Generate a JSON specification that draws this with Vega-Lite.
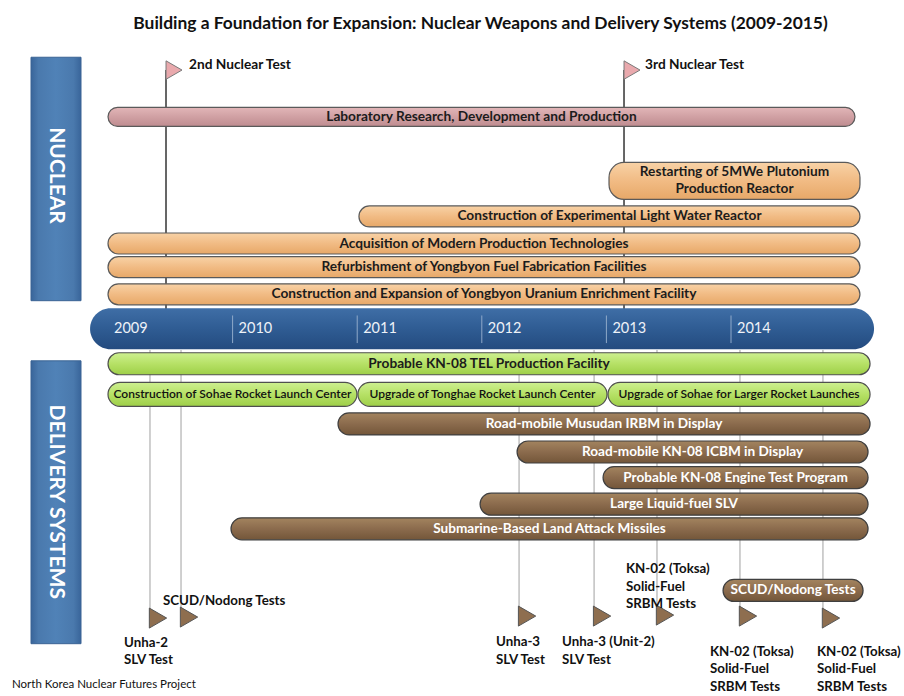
{
  "$schema": "https://vega.github.io/schema/vega-lite/v6.json",
  "width": 904,
  "height": 696,
  "autosize": {"type": "none"},
  "padding": 0,
  "background": "white",
  "config": {"view": {"stroke": null}, "text": {"font": "Lato"}},
  "datasets": {
    "blocks": [
      {"name": "NUCLEAR", "start": 2008.382, "end": 2008.7833, "top": 53, "bottom": 300},
      {"name": "DELIVERY SYSTEMS", "start": 2008.382, "end": 2008.7833, "top": 361, "bottom": 648}
    ],
    "band": [{"start": 2008.856, "end": 2015.148, "lane": 328.5}],
    "years": [
      {"year": 2009, "label": "2009"},
      {"year": 2010, "label": "2010"},
      {"year": 2011, "label": "2011"},
      {"year": 2012, "label": "2012"},
      {"year": 2013, "label": "2013"},
      {"year": 2014, "label": "2014"}
    ],
    "bars": [
      {"name": "Laboratory Research, Development and Production", "start": 2009.0, "end": 2014.995, "lane": 113.5, "group": "pink"},
      {"name": "Restarting of 5MWe Plutonium\nProduction Reactor", "start": 2013.021, "end": 2015.035, "lane": 178.5, "group": "orangeTall"},
      {"name": "Construction of Experimental Light Water Reactor", "start": 2011.014, "end": 2015.035, "lane": 214.5, "group": "orange"},
      {"name": "Acquisition of Modern Production Technologies", "start": 2009.0, "end": 2015.035, "lane": 242, "group": "orange"},
      {"name": "Refurbishment of Yongbyon Fuel Fabrication Facilities", "start": 2009.0, "end": 2015.035, "lane": 266, "group": "orange"},
      {"name": "Construction and Expansion of Yongbyon Uranium Enrichment Facility", "start": 2009.0, "end": 2015.035, "lane": 293.5, "group": "orange"},
      {"name": "Probable KN-08 TEL Production Facility", "start": 2009.0, "end": 2015.116, "lane": 364, "group": "green"},
      {"name": "Construction of Sohae Rocket  Launch Center", "start": 2009.0, "end": 2010.998, "lane": 395, "group": "green2"},
      {"name": "Upgrade of Tonghae Rocket Launch Center", "start": 2011.006, "end": 2013.005, "lane": 395, "group": "green2"},
      {"name": "Upgrade of Sohae for Larger Rocket Launches", "start": 2013.013, "end": 2015.116, "lane": 395, "group": "green2"},
      {"name": "Road-mobile Musudan IRBM in Display", "start": 2010.846, "end": 2015.116, "lane": 425, "group": "brown"},
      {"name": "Road-mobile KN-08 ICBM in Display", "start": 2012.283, "end": 2015.1, "lane": 453.5, "group": "brown"},
      {"name": "Probable KN-08 Engine Test Program", "start": 2012.973, "end": 2015.1, "lane": 479.5, "group": "brown"},
      {"name": "Large Liquid-fuel SLV", "start": 2011.986, "end": 2015.1, "lane": 506.5, "group": "brown"},
      {"name": "Submarine-Based Land Attack Missiles", "start": 2009.987, "end": 2015.1, "lane": 531.5, "group": "brown"},
      {"name": "SCUD/Nodong Tests", "start": 2013.936, "end": 2015.06, "lane": 594, "group": "brown"}
    ],
    "events": [
      {"name": "2nd Nuclear Test", "year": 2009.4655, "lane": 66, "group": "nuc"},
      {"name": "3rd Nuclear Test", "year": 2013.1413, "lane": 66, "group": "nuc"},
      {"name": "Unha-2 SLV Test", "year": 2009.337, "lane": 622, "group": "del"},
      {"name": "SCUD/Nodong Tests", "year": 2009.586, "lane": 621, "group": "del"},
      {"name": "Unha-3 SLV Test", "year": 2012.299, "lane": 620, "group": "del"},
      {"name": "Unha-3 (Unit-2) SLV Test", "year": 2012.901, "lane": 620, "group": "del"},
      {"name": "KN-02 (Toksa) 1", "year": 2013.406, "lane": 619, "group": "del"},
      {"name": "KN-02 (Toksa) 2", "year": 2014.072, "lane": 620, "group": "del"},
      {"name": "KN-02 (Toksa) 3", "year": 2014.738, "lane": 622, "group": "del"}
    ],
    "notes": [
      {"text": "Building a Foundation for Expansion: Nuclear Weapons and Delivery Systems (2009-2015)", "year": 2011.9896, "lane": 19, "kind": "title"},
      {"text": "NUCLEAR", "year": 2008.5826, "lane": 173, "kind": "block"},
      {"text": "DELIVERY SYSTEMS", "year": 2008.5826, "lane": 504, "kind": "block"},
      {"text": "2nd Nuclear Test", "year": 2009.65, "lane": 61, "kind": "flag"},
      {"text": "3rd Nuclear Test", "year": 2013.31, "lane": 61, "kind": "flag"},
      {"text": "SCUD/Nodong Tests", "year": 2009.4414, "lane": 598, "kind": "note"},
      {"text": "Unha-2\nSLV Test", "year": 2009.1284, "lane": 640, "kind": "note"},
      {"text": "Unha-3\nSLV Test", "year": 2012.1139, "lane": 639, "kind": "note"},
      {"text": "Unha-3 (Unit-2)\nSLV Test", "year": 2012.6437, "lane": 639, "kind": "note"},
      {"text": "KN-02 (Toksa)\nSolid-Fuel\nSRBM Tests", "year": 2013.1573, "lane": 565, "kind": "note"},
      {"text": "KN-02 (Toksa)\nSolid-Fuel\nSRBM Tests", "year": 2013.8315, "lane": 649, "kind": "note"},
      {"text": "KN-02 (Toksa)\nSolid-Fuel\nSRBM Tests", "year": 2014.6902, "lane": 649, "kind": "note"},
      {"text": "North Korea  Nuclear Futures Project", "year": 2008.2295, "lane": 690, "kind": "foot"}
    ]
  },
  "layer": [
    {
      "data": {"name": "blocks"},
      "mark": {"type": "rect", "stroke": "#3a6394", "strokeWidth": 1,
        "fill": {"gradient": "linear", "x1": 0, "y1": 0, "x2": 1, "y2": 0,
          "stops": [{"offset": 0, "color": "#39659a"}, {"offset": 0.15, "color": "#4a79ad"}, {"offset": 0.5, "color": "#5082b7"}, {"offset": 0.85, "color": "#4a79ad"}, {"offset": 1, "color": "#39659a"}]}},
      "encoding": {
        "x": {"field": "start", "type": "quantitative", "scale": {"domain": [2008.1332, 2015.3884], "nice": false, "zero": false}, "axis": null},
        "x2": {"field": "end"},
        "y": {"field": "top", "type": "quantitative", "scale": {"domain": [0, 696], "reverse": true, "nice": false, "zero": false}, "axis": null},
        "y2": {"field": "bottom"}
      }
    },
    {
      "data": {"name": "events"},
      "transform": [{"filter": "datum.group === 'nuc'"}],
      "mark": {"type": "rule", "color": "#000000", "strokeWidth": 1.2},
      "encoding": {
        "x": {"field": "year", "type": "quantitative", "scale": {"domain": [2008.1332, 2015.3884], "nice": false, "zero": false}, "axis": null},
        "y": {"field": "lane", "type": "quantitative", "scale": {"domain": [0, 696], "reverse": true, "nice": false, "zero": false}, "axis": null},
        "y2": {"datum": 310}
      }
    },
    {
      "data": {"name": "events"},
      "transform": [{"filter": "datum.group === 'del'"}],
      "mark": {"type": "rule", "color": "#a0a0a0", "strokeWidth": 1},
      "encoding": {
        "x": {"field": "year", "type": "quantitative", "scale": {"domain": [2008.1332, 2015.3884], "nice": false, "zero": false}, "axis": null},
        "y": {"field": "lane", "type": "quantitative", "scale": {"domain": [0, 696], "reverse": true, "nice": false, "zero": false}, "axis": null},
        "y2": {"datum": 350}
      }
    },
    {
      "data": {"name": "band"},
      "mark": {"type": "bar", "size": 41, "cornerRadius": 20.5,
        "fill": {"gradient": "linear", "x1": 0, "y1": 0, "x2": 0, "y2": 1,
          "stops": [{"offset": 0, "color": "#3f6ea6"}, {"offset": 0.5, "color": "#2f5c93"}, {"offset": 1, "color": "#244b7f"}]}},
      "encoding": {
        "x": {"field": "start", "type": "quantitative", "scale": {"domain": [2008.1332, 2015.3884], "nice": false, "zero": false}, "axis": null},
        "x2": {"field": "end"},
        "y": {"field": "lane", "type": "quantitative", "scale": {"domain": [0, 696], "reverse": true, "nice": false, "zero": false}, "axis": null}
      }
    },
    {
      "data": {"name": "years"},
      "transform": [{"filter": "datum.year > 2009"}],
      "mark": {"type": "rule", "color": "#8fa9c9", "strokeWidth": 1},
      "encoding": {
        "x": {"field": "year", "type": "quantitative", "scale": {"domain": [2008.1332, 2015.3884], "nice": false, "zero": false}, "axis": null},
        "y": {"datum": 315, "type": "quantitative", "scale": {"domain": [0, 696], "reverse": true, "nice": false, "zero": false}, "axis": null},
        "y2": {"datum": 343}
      }
    },
    {
      "data": {"name": "years"},
      "mark": {"type": "text", "align": "left", "baseline": "middle", "xOffset": 6, "fontSize": 14.5, "color": "#eef2f8"},
      "encoding": {
        "x": {"field": "year", "type": "quantitative", "scale": {"domain": [2008.1332, 2015.3884], "nice": false, "zero": false}, "axis": null},
        "y": {"datum": 329, "type": "quantitative", "scale": {"domain": [0, 696], "reverse": true, "nice": false, "zero": false}, "axis": null},
        "text": {"field": "label"}
      }
    },
    {
      "data": {"name": "bars"},
      "transform": [{"filter": "datum.group === 'pink'"}],
      "mark": {"type": "bar", "size": 19, "cornerRadius": 9.5, "stroke": "#5a5a5a", "strokeWidth": 1.2,
        "fill": {"gradient": "linear", "x1": 0, "y1": 0, "x2": 0, "y2": 1,
          "stops": [{"offset": 0, "color": "#e2b6b8"}, {"offset": 0.5, "color": "#d0a0a3"}, {"offset": 1, "color": "#bf8c90"}]}},
      "encoding": {
        "x": {"field": "start", "type": "quantitative", "scale": {"domain": [2008.1332, 2015.3884], "nice": false, "zero": false}, "axis": null},
        "x2": {"field": "end"},
        "y": {"field": "lane", "type": "quantitative", "scale": {"domain": [0, 696], "reverse": true, "nice": false, "zero": false}, "axis": null}
      }
    },
    {
      "data": {"name": "bars"},
      "transform": [{"filter": "datum.group === 'orange'"}],
      "mark": {"type": "bar", "size": 21, "cornerRadius": 10.5, "stroke": "#5a5a5a", "strokeWidth": 1.2,
        "fill": {"gradient": "linear", "x1": 0, "y1": 0, "x2": 0, "y2": 1,
          "stops": [{"offset": 0, "color": "#f8d2a6"}, {"offset": 0.5, "color": "#f1bb84"}, {"offset": 1, "color": "#e7a868"}]}},
      "encoding": {
        "x": {"field": "start", "type": "quantitative", "scale": {"domain": [2008.1332, 2015.3884], "nice": false, "zero": false}, "axis": null},
        "x2": {"field": "end"},
        "y": {"field": "lane", "type": "quantitative", "scale": {"domain": [0, 696], "reverse": true, "nice": false, "zero": false}, "axis": null}
      }
    },
    {
      "data": {"name": "bars"},
      "transform": [{"filter": "datum.group === 'orangeTall'"}],
      "mark": {"type": "bar", "size": 37, "cornerRadius": 15, "stroke": "#5a5a5a", "strokeWidth": 1.2,
        "fill": {"gradient": "linear", "x1": 0, "y1": 0, "x2": 0, "y2": 1,
          "stops": [{"offset": 0, "color": "#f8d2a6"}, {"offset": 0.5, "color": "#f1bb84"}, {"offset": 1, "color": "#e7a868"}]}},
      "encoding": {
        "x": {"field": "start", "type": "quantitative", "scale": {"domain": [2008.1332, 2015.3884], "nice": false, "zero": false}, "axis": null},
        "x2": {"field": "end"},
        "y": {"field": "lane", "type": "quantitative", "scale": {"domain": [0, 696], "reverse": true, "nice": false, "zero": false}, "axis": null}
      }
    },
    {
      "data": {"name": "bars"},
      "transform": [{"filter": "datum.group === 'green'"}],
      "mark": {"type": "bar", "size": 22, "cornerRadius": 11, "stroke": "#4f4f4f", "strokeWidth": 1.2,
        "fill": {"gradient": "linear", "x1": 0, "y1": 0, "x2": 0, "y2": 1,
          "stops": [{"offset": 0, "color": "#cdef90"}, {"offset": 0.5, "color": "#b6e166"}, {"offset": 1, "color": "#9ecf48"}]}},
      "encoding": {
        "x": {"field": "start", "type": "quantitative", "scale": {"domain": [2008.1332, 2015.3884], "nice": false, "zero": false}, "axis": null},
        "x2": {"field": "end"},
        "y": {"field": "lane", "type": "quantitative", "scale": {"domain": [0, 696], "reverse": true, "nice": false, "zero": false}, "axis": null}
      }
    },
    {
      "data": {"name": "bars"},
      "transform": [{"filter": "datum.group === 'green2'"}],
      "mark": {"type": "bar", "size": 24, "cornerRadius": 12, "stroke": "#4f4f4f", "strokeWidth": 1.2,
        "fill": {"gradient": "linear", "x1": 0, "y1": 0, "x2": 0, "y2": 1,
          "stops": [{"offset": 0, "color": "#cdef90"}, {"offset": 0.5, "color": "#b6e166"}, {"offset": 1, "color": "#9ecf48"}]}},
      "encoding": {
        "x": {"field": "start", "type": "quantitative", "scale": {"domain": [2008.1332, 2015.3884], "nice": false, "zero": false}, "axis": null},
        "x2": {"field": "end"},
        "y": {"field": "lane", "type": "quantitative", "scale": {"domain": [0, 696], "reverse": true, "nice": false, "zero": false}, "axis": null}
      }
    },
    {
      "data": {"name": "bars"},
      "transform": [{"filter": "datum.group === 'brown'"}],
      "mark": {"type": "bar", "size": 22, "cornerRadius": 11, "stroke": "#3f3f3f", "strokeWidth": 1.2,
        "fill": {"gradient": "linear", "x1": 0, "y1": 0, "x2": 0, "y2": 1,
          "stops": [{"offset": 0, "color": "#a3845f"}, {"offset": 0.5, "color": "#8b6b4d"}, {"offset": 1, "color": "#735639"}]}},
      "encoding": {
        "x": {"field": "start", "type": "quantitative", "scale": {"domain": [2008.1332, 2015.3884], "nice": false, "zero": false}, "axis": null},
        "x2": {"field": "end"},
        "y": {"field": "lane", "type": "quantitative", "scale": {"domain": [0, 696], "reverse": true, "nice": false, "zero": false}, "axis": null}
      }
    },
    {
      "data": {"name": "bars"},
      "transform": [
        {"filter": "datum.group === 'pink' || datum.group === 'orange' || datum.group === 'green'"},
        {"fold": ["start", "end"], "as": ["k", "v"]},
        {"aggregate": [{"op": "mean", "field": "v", "as": "mid"}], "groupby": ["name", "lane"]}
      ],
      "mark": {"type": "text", "align": "center", "baseline": "middle", "fontSize": 13.7, "fontWeight": "bold", "color": "#1c1c1c"},
      "encoding": {
        "x": {"field": "mid", "type": "quantitative", "scale": {"domain": [2008.1332, 2015.3884], "nice": false, "zero": false}, "axis": null},
        "y": {"field": "lane", "type": "quantitative", "scale": {"domain": [0, 696], "reverse": true, "nice": false, "zero": false}, "axis": null},
        "text": {"field": "name"}
      }
    },
    {
      "data": {"name": "bars"},
      "transform": [
        {"filter": "datum.group === 'orangeTall'"},
        {"fold": ["start", "end"], "as": ["k", "v"]},
        {"aggregate": [{"op": "mean", "field": "v", "as": "mid"}], "groupby": ["name", "lane"]}
      ],
      "mark": {"type": "text", "align": "center", "baseline": "middle", "dy": -8.5, "fontSize": 13.7, "fontWeight": "bold", "color": "#1c1c1c", "lineBreak": "\n", "lineHeight": 17},
      "encoding": {
        "x": {"field": "mid", "type": "quantitative", "scale": {"domain": [2008.1332, 2015.3884], "nice": false, "zero": false}, "axis": null},
        "y": {"field": "lane", "type": "quantitative", "scale": {"domain": [0, 696], "reverse": true, "nice": false, "zero": false}, "axis": null},
        "text": {"field": "name"}
      }
    },
    {
      "data": {"name": "bars"},
      "transform": [
        {"filter": "datum.group === 'green2'"},
        {"fold": ["start", "end"], "as": ["k", "v"]},
        {"aggregate": [{"op": "mean", "field": "v", "as": "mid"}], "groupby": ["name", "lane"]}
      ],
      "mark": {"type": "text", "align": "center", "baseline": "middle", "fontSize": 12, "fontWeight": 600, "color": "#111111"},
      "encoding": {
        "x": {"field": "mid", "type": "quantitative", "scale": {"domain": [2008.1332, 2015.3884], "nice": false, "zero": false}, "axis": null},
        "y": {"field": "lane", "type": "quantitative", "scale": {"domain": [0, 696], "reverse": true, "nice": false, "zero": false}, "axis": null},
        "text": {"field": "name"}
      }
    },
    {
      "data": {"name": "bars"},
      "transform": [
        {"filter": "datum.group === 'brown'"},
        {"fold": ["start", "end"], "as": ["k", "v"]},
        {"aggregate": [{"op": "mean", "field": "v", "as": "mid"}], "groupby": ["name", "lane"]}
      ],
      "mark": {"type": "text", "align": "center", "baseline": "middle", "fontSize": 13.6, "fontWeight": "bold", "color": "#ffffff"},
      "encoding": {
        "x": {"field": "mid", "type": "quantitative", "scale": {"domain": [2008.1332, 2015.3884], "nice": false, "zero": false}, "axis": null},
        "y": {"field": "lane", "type": "quantitative", "scale": {"domain": [0, 696], "reverse": true, "nice": false, "zero": false}, "axis": null},
        "text": {"field": "name"}
      }
    },
    {
      "data": {"name": "events"},
      "transform": [{"filter": "datum.group === 'nuc'"}],
      "mark": {"type": "point", "shape": "triangle-right", "size": 340, "filled": true, "fill": "#e9a9ad", "stroke": "#7a7a7a", "strokeWidth": 1, "opacity": 1, "xOffset": 8},
      "encoding": {
        "x": {"field": "year", "type": "quantitative", "scale": {"domain": [2008.1332, 2015.3884], "nice": false, "zero": false}, "axis": null},
        "y": {"field": "lane", "type": "quantitative", "scale": {"domain": [0, 696], "reverse": true, "nice": false, "zero": false}, "axis": null}
      }
    },
    {
      "data": {"name": "events"},
      "transform": [{"filter": "datum.group === 'del'"}],
      "mark": {"type": "point", "shape": "triangle-right", "size": 400, "filled": true, "fill": "#8e6e4f", "stroke": "#555555", "strokeWidth": 1, "opacity": 1, "xOffset": 8},
      "encoding": {
        "x": {"field": "year", "type": "quantitative", "scale": {"domain": [2008.1332, 2015.3884], "nice": false, "zero": false}, "axis": null},
        "y": {"field": "lane", "type": "quantitative", "scale": {"domain": [0, 696], "reverse": true, "nice": false, "zero": false}, "axis": null}
      }
    },
    {
      "data": {"name": "notes"},
      "transform": [{"filter": "datum.kind === 'title'"}],
      "mark": {"type": "text", "align": "center", "baseline": "middle", "fontSize": 17.4, "fontWeight": "bold", "color": "#111111"},
      "encoding": {
        "x": {"field": "year", "type": "quantitative", "scale": {"domain": [2008.1332, 2015.3884], "nice": false, "zero": false}, "axis": null},
        "y": {"field": "lane", "type": "quantitative", "scale": {"domain": [0, 696], "reverse": true, "nice": false, "zero": false}, "axis": null},
        "text": {"field": "text"}
      }
    },
    {
      "data": {"name": "notes"},
      "transform": [{"filter": "datum.kind === 'block'"}],
      "mark": {"type": "text", "angle": 90, "align": "center", "baseline": "middle", "fontSize": 21, "fontWeight": "bold", "color": "white"},
      "encoding": {
        "x": {"field": "year", "type": "quantitative", "scale": {"domain": [2008.1332, 2015.3884], "nice": false, "zero": false}, "axis": null},
        "y": {"field": "lane", "type": "quantitative", "scale": {"domain": [0, 696], "reverse": true, "nice": false, "zero": false}, "axis": null},
        "text": {"field": "text"}
      }
    },
    {
      "data": {"name": "notes"},
      "transform": [{"filter": "datum.kind === 'flag'"}],
      "mark": {"type": "text", "align": "left", "baseline": "middle", "fontSize": 13.7, "fontWeight": "bold", "color": "#111111"},
      "encoding": {
        "x": {"field": "year", "type": "quantitative", "scale": {"domain": [2008.1332, 2015.3884], "nice": false, "zero": false}, "axis": null},
        "y": {"field": "lane", "type": "quantitative", "scale": {"domain": [0, 696], "reverse": true, "nice": false, "zero": false}, "axis": null},
        "text": {"field": "text"}
      }
    },
    {
      "data": {"name": "notes"},
      "transform": [{"filter": "datum.kind === 'note'"}],
      "mark": {"type": "text", "align": "left", "baseline": "top", "fontSize": 13.3, "fontWeight": "bold", "color": "#111111", "lineBreak": "\n", "lineHeight": 17.7},
      "encoding": {
        "x": {"field": "year", "type": "quantitative", "scale": {"domain": [2008.1332, 2015.3884], "nice": false, "zero": false}, "axis": null},
        "y": {"field": "lane", "type": "quantitative", "scale": {"domain": [0, 696], "reverse": true, "nice": false, "zero": false}, "axis": null},
        "text": {"field": "text"}
      }
    },
    {
      "data": {"name": "notes"},
      "transform": [{"filter": "datum.kind === 'foot'"}],
      "mark": {"type": "text", "align": "left", "baseline": "middle", "fontSize": 11.5, "color": "#111111"},
      "encoding": {
        "x": {"field": "year", "type": "quantitative", "scale": {"domain": [2008.1332, 2015.3884], "nice": false, "zero": false}, "axis": null},
        "y": {"field": "lane", "type": "quantitative", "scale": {"domain": [0, 696], "reverse": true, "nice": false, "zero": false}, "axis": null},
        "text": {"field": "text"}
      }
    }
  ]
}
